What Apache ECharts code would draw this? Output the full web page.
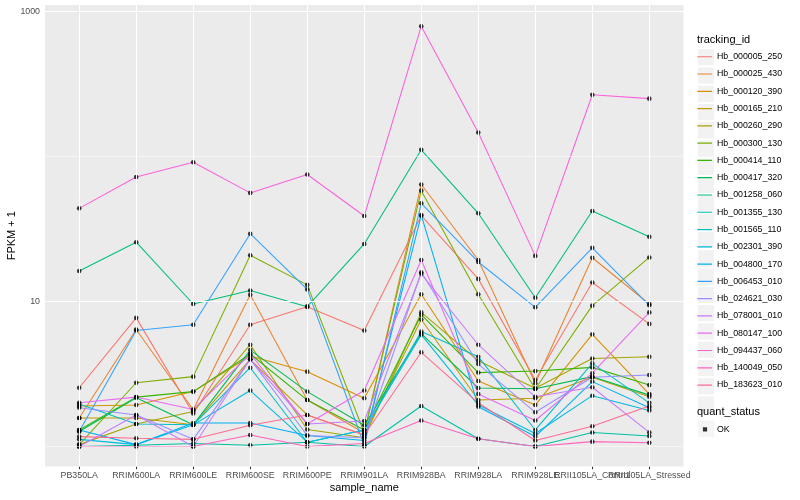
<!DOCTYPE html>
<html><head><meta charset="utf-8">
<script src="https://cdn.jsdelivr.net/npm/echarts@6/dist/echarts.min.js"></script>
<style>html,body{margin:0;padding:0;background:#fff}#c{width:800px;height:500px}</style>
</head><body><div id="c"></div>
<script>
const categories = ['PB350LA','RRIM600LA','RRIM600LE','RRIM600SE','RRIM600PE','RRIM901LA','RRIM928BA','RRIM928LA','RRIM928LE','RRII105LA_Control','RRII105LA_Stressed'];

const Hb_000005_250 = [2.54, 7.7, 1.69, 6.9, 9.2, 6.3, 39, 14.3, 2.87, 13.5, 7.0];
const Hb_000025_430 = [1.57, 6.4, 1.79, 11.1, 2.09, 1.24, 64, 19.3, 2.73, 20, 9.6];
const Hb_000120_390 = [1.9, 1.93, 2.39, 4.2, 3.28, 2.15, 11.2, 2.83, 1.93, 5.93, 2.3];
const Hb_000165_210 = [1.57, 1.57, 1.41, 3.99, 1.65, 1.2, 7.5, 2.09, 2.15, 3.0, 2.2];
const Hb_000260_290 = [1.03, 1.43, 1.74, 5.03, 1.31, 1.15, 8.4, 3.9, 2.52, 4.04, 4.16];
const Hb_000300_130 = [1.03, 2.75, 3.03, 20.8, 13.0, 1.24, 58, 11.2, 2.49, 9.35, 20.1];
const Hb_000414_110 = [1.3, 2.19, 2.39, 4.34, 2.09, 1.3, 8.1, 3.23, 3.31, 3.51, 2.65];
const Hb_000417_320 = [1.27, 2.17, 1.41, 4.62, 2.39, 1.4, 6.0, 2.53, 2.5, 3.03, 2.26];
const Hb_001258_060 = [16.2, 25.6, 9.6, 11.9, 9.2, 24.9, 111, 40.5, 10.6, 42, 27.9];
const Hb_001355_130 = [1.0, 1.02, 1.05, 1.02, 1.07, 1.0, 1.9, 1.13, 1.0, 1.25, 1.18];
const Hb_001565_110 = [1.96, 1.43, 1.41, 3.49, 1.07, 1.3, 6.2, 4.16, 1.3, 3.74, 2.0];
const Hb_002301_390 = [1.12, 1.03, 1.41, 2.43, 1.07, 1.3, 5.9, 1.93, 1.23, 2.24, 1.77];
const Hb_004800_170 = [1.3, 1.03, 1.45, 1.45, 1.19, 1.1, 39.4, 1.88, 1.17, 2.8, 1.85];
const Hb_006453_010 = [1.27, 6.3, 6.9, 29.3, 12.1, 1.02, 47.5, 18.7, 9.1, 23.4, 9.4];
const Hb_024621_030 = [1.85, 1.65, 1.12, 4.0, 1.19, 1.15, 15.9, 3.7, 1.72, 3.0, 3.11];
const Hb_078001_010 = [1.0, 1.65, 1.0, 3.99, 1.43, 1.5, 15.5, 5.03, 2.2, 2.56, 1.25];
const Hb_080147_100 = [2.0, 2.19, 1.8, 4.34, 1.43, 2.43, 19.3, 2.3, 1.51, 3.2, 8.4];
const Hb_094437_060 = [43.8, 72, 91, 56, 75, 38.8, 789, 146, 20.6, 266, 250];
const Hb_140049_050 = [1.0, 1.0, 1.0, 1.2, 1.0, 1.05, 1.51, 1.13, 1.0, 1.08, 1.06];
const Hb_183623_010 = [1.17, 1.14, 1.12, 1.4, 1.65, 1.2, 4.46, 2.0, 1.1, 1.38, 1.9];

const trackingIds = ['Hb_000005_250','Hb_000025_430','Hb_000120_390','Hb_000165_210','Hb_000260_290','Hb_000300_130','Hb_000414_110','Hb_000417_320','Hb_001258_060','Hb_001355_130','Hb_001565_110','Hb_002301_390','Hb_004800_170','Hb_006453_010','Hb_024621_030','Hb_078001_010','Hb_080147_100','Hb_094437_060','Hb_140049_050','Hb_183623_010'];
const seriesValues = [Hb_000005_250,Hb_000025_430,Hb_000120_390,Hb_000165_210,Hb_000260_290,Hb_000300_130,Hb_000414_110,Hb_000417_320,Hb_001258_060,Hb_001355_130,Hb_001565_110,Hb_002301_390,Hb_004800_170,Hb_006453_010,Hb_024621_030,Hb_078001_010,Hb_080147_100,Hb_094437_060,Hb_140049_050,Hb_183623_010];
const palette = ['#F8766D','#EA8331','#D89000','#C09B00','#A3A500','#7CAE00','#39B600','#00BB4E','#00BF7D','#00C1A3','#00BFC4','#00BAE0','#00B0F6','#35A2FF','#9590FF','#C77CFF','#E76BF3','#FA62DB','#FF62BC','#FF6C91'];
const statusName = 'OK';
const legendTitles = ['tracking_id', 'quant_status'];

const yTickValues = [10, 1000];
const yMajorGrid = [10, 1000];
const yMinorGrid = [1, 100];

const FONT = '"Liberation Sans", Arial, Helvetica, sans-serif';
const chart = echarts.init(document.getElementById('c'));

const lineIcon = 'path://M0,0h0.01v0.01h-0.01Z M0.3,8.04H15V9.24H0.3Z M15,17.28h-0.01v-0.01h0.01Z';
const okIcon = 'path://M0,0h0.01v0.01h-0.01Z M5.9,6.5H10.1V10.7H5.9Z M15,17.28h-0.01v-0.01h0.01Z';
const catIdx = categories.map((c, i) => i);
// the two right-most labels overlap in the reference; one sits on a twin axis so neither is dropped
const twinLabelIdx = [9];
const mainLabelIdx = catIdx.filter(i => twinLabelIdx.indexOf(i) < 0);

const gridLines = [].concat(
  catIdx.map(i => ({ xAxis: i, lineStyle: { color: '#FFFFFF', width: 1.07, type: 'solid' } })),
  yMajorGrid.map(v => ({ yAxis: v, lineStyle: { color: '#FFFFFF', width: 1.07, type: 'solid' } })),
  yMinorGrid.map(v => ({ yAxis: v, lineStyle: { color: '#FFFFFF', width: 0.53, type: 'solid' } }))
);

const series = [{
  type: 'line', name: '__grid', data: [], silent: true, z: 1,
  markLine: { silent: true, symbol: ['none', 'none'], animation: false, label: { show: false }, emphasis: { disabled: true }, data: gridLines }
}];
trackingIds.forEach((id, i) => {
  series.push({
    type: 'line', name: id, z: 2, silent: true,
    data: seriesValues[i].map((v, j) => [j, v]),
    showSymbol: false, symbol: 'none',
    lineStyle: { color: palette[i], width: 1.07 },
    itemStyle: { color: palette[i] }
  });
});
series.push({
  type: 'scatter', name: statusName, z: 3, silent: true,
  data: [].concat(...seriesValues.map(vals => vals.map((v, j) => [j, v]))),
  symbol: 'circle', symbolSize: 4.6,
  itemStyle: { color: '#000000' }
});

const legendText = { fontSize: 8.8, color: '#000000', fontFamily: FONT };
const hiddenText = { fontSize: 8.8, color: 'rgba(0,0,0,0)', fontFamily: FONT };
const xLabelBase = { color: '#4D4D4D', fontSize: 8.8, fontFamily: FONT, margin: 5, hideOverlap: false, formatter: v => categories[Math.round(v)] };
const option = {
  animation: false,
  backgroundColor: '#FFFFFF',
  textStyle: { fontFamily: FONT },
  graphic: [
    { type: 'text', left: 697, top: 34.5, z: 100, silent: true, style: { text: legendTitles[0], fontSize: 11, fill: '#000000', fontFamily: FONT } },
    { type: 'text', left: 697, top: 406.2, z: 100, silent: true, style: { text: legendTitles[1], fontSize: 11, fill: '#000000', fontFamily: FONT } }
  ],
  grid: { left: 45, right: 116.5, top: 5, bottom: 33.6, show: true, backgroundColor: '#EBEBEB', borderWidth: 0, outerBoundsMode: 'none', containLabel: false },
  xAxis: [{
    type: 'value', min: -0.6, max: 10.6,
    splitLine: { show: false }, axisLine: { show: false },
    axisTick: { show: true, customValues: catIdx, length: 2.75, lineStyle: { color: '#333333', width: 1.07 } },
    axisLabel: Object.assign({ customValues: mainLabelIdx }, xLabelBase),
    name: 'sample_name', nameLocation: 'middle', nameGap: 16, nameMoveOverlap: false,
    nameTextStyle: { color: '#000', fontSize: 11, fontFamily: FONT }
  }, {
    type: 'value', min: -0.6, max: 10.6, position: 'bottom', offset: 0,
    splitLine: { show: false }, axisLine: { show: false }, axisTick: { show: false },
    axisLabel: Object.assign({ customValues: twinLabelIdx }, xLabelBase)
  }],
  yAxis: {
    type: 'log', logBase: 10, min: 0.729, max: 1105,
    splitLine: { show: false }, axisLine: { show: false },
    axisTick: { show: true, customValues: yTickValues, length: 2.75, lineStyle: { color: '#333333', width: 1.07 } },
    axisLabel: { customValues: yTickValues, formatter: v => String(Math.round(v)), color: '#4D4D4D', fontSize: 8.8, fontFamily: FONT, margin: 5 },
    name: 'FPKM + 1', nameLocation: 'middle', nameGap: 27.5, nameRotate: 90, nameMoveOverlap: false,
    nameTextStyle: { color: '#000', fontSize: 11, fontFamily: FONT }
  },
  legend: [
    { left: 697, top: 48.1, orient: 'vertical', itemWidth: 17, itemHeight: 17.28, itemGap: 0, padding: 0, selectedMode: false, z: 3,
      icon: 'rect', textStyle: hiddenText,
      data: trackingIds.map(n => ({ name: n, itemStyle: { color: '#F2F2F2', borderColor: '#FFFFFF', borderWidth: 1 } })) },
    { left: 697, top: 48.1, orient: 'vertical', itemWidth: 15, itemHeight: 17.28, itemGap: 0, padding: 0, selectedMode: false, z: 4,
      textStyle: legendText,
      data: trackingIds.map((n, i) => ({ name: n, icon: lineIcon, itemStyle: { color: palette[i], borderWidth: 0 } })) },
    { left: 697, bottom: 62.02, orient: 'vertical', itemWidth: 17, itemHeight: 17.28, itemGap: 0, padding: 0, selectedMode: false, z: 3,
      textStyle: hiddenText,
      data: [{ name: statusName, icon: 'rect', itemStyle: { color: '#F2F2F2', borderColor: '#FFFFFF', borderWidth: 1 } }] },
    { left: 697, top: 420.7, orient: 'vertical', itemWidth: 15, itemHeight: 17.28, itemGap: 0, padding: 0, selectedMode: false, z: 4,
      textStyle: legendText,
      data: [{ name: statusName, icon: okIcon, itemStyle: { color: '#000000', borderWidth: 0 } }] }
  ],
  series: series
};
chart.setOption(option);
</script>
</body></html>
